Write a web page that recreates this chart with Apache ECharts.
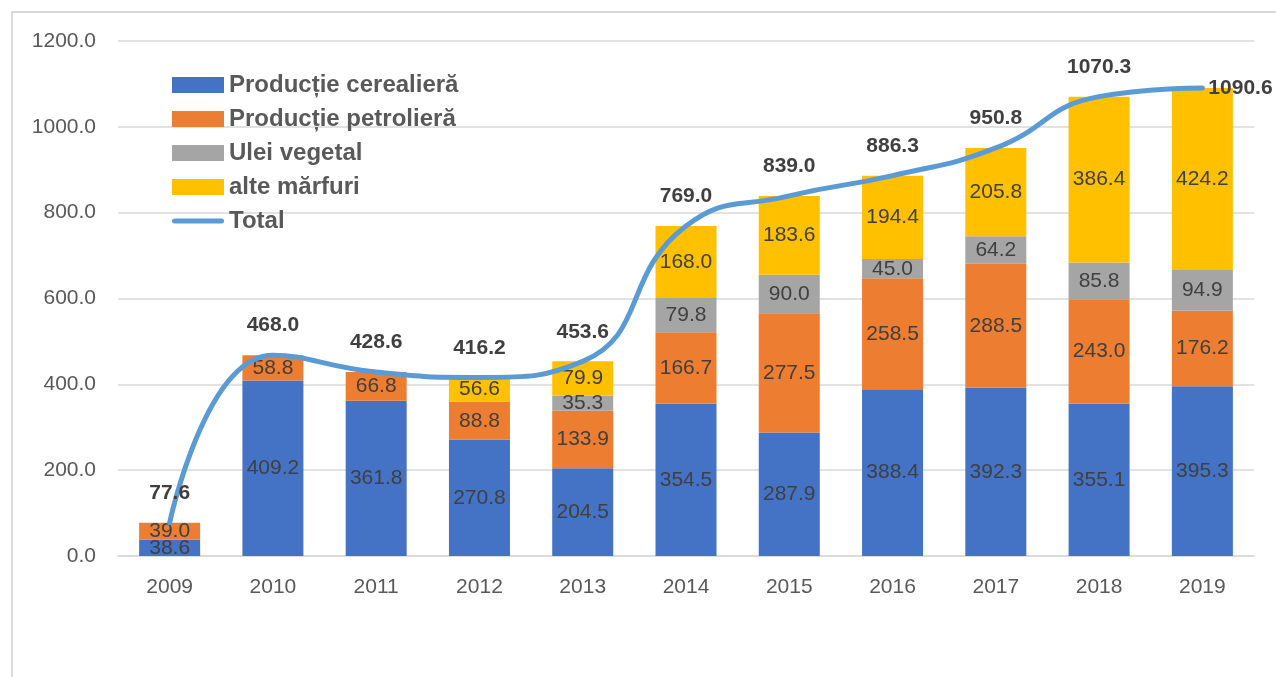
<!DOCTYPE html>
<html>
<head>
<meta charset="utf-8">
<script src="https://cdn.jsdelivr.net/npm/echarts@6/dist/echarts.min.js"></script>
<style>html,body{margin:0;padding:0;background:#fff}#c{width:1276px;height:677px}</style>
</head>
<body>
<div id="c"></div>
<script>
const categories = ['2009','2010','2011','2012','2013','2014','2015','2016','2017','2018','2019'];
const cereale = [38.6, 409.2, 361.8, 270.8, 204.5, 354.5, 287.9, 388.4, 392.3, 355.1, 395.3];
const petrol = [39.0, 58.8, 66.8, 88.8, 133.9, 166.7, 277.5, 258.5, 288.5, 243.0, 176.2];
const ulei = [null, null, null, null, 35.3, 79.8, 90.0, 45.0, 64.2, 85.8, 94.9];
const alte = [null, null, null, 56.6, 79.9, 168.0, 183.6, 194.4, 205.8, 386.4, 424.2];
const total = [77.6, 468.0, 428.6, 416.2, 453.6, 769.0, 839.0, 886.3, 950.8, 1070.3, 1090.6];
const yTicks = [0, 200, 400, 600, 800, 1000, 1200];

const FONT = '"Liberation Sans", Arial, sans-serif';
const chart = echarts.init(document.getElementById('c'), null, {renderer: 'canvas'});

function barSeries(name, data, color) {
  return {
    name: name, type: 'bar', stack: 'a', data: data, barWidth: 61,
    itemStyle: {color: color},
    label: {
      show: true, position: 'inside', color: '#404040', fontSize: 21, fontFamily: FONT,
      formatter: p => (p.value == null ? '' : Number(p.value).toFixed(1))
    },
    z: 2
  };
}

const lineData = total.map((v, i) => i === total.length - 1
  ? {value: v, label: {position: 'right', distance: 6}}
  : v);

const lineIcon = 'path://M0,0 L0.05,0 L0,0.05 Z M52,16 L51.95,16 L52,15.95 Z ' +
  'M2.5,5.5 L49.5,5.5 A2.5,2.5 0 0 1 49.5,10.5 L2.5,10.5 A2.5,2.5 0 0 1 2.5,5.5 Z';

chart.setOption({
  animation: false,
  backgroundColor: '#fff',
  textStyle: {fontFamily: FONT},
  graphic: [{
    type: 'rect', silent: true, z: -10,
    shape: {x: 12, y: 12, width: 1300, height: 720},
    style: {fill: 'none', stroke: '#d9d9d9', lineWidth: 2}
  }],
  grid: {left: 118, right: 22, top: 41, bottom: 121, containLabel: false},
  legend: {
    orient: 'vertical', left: 172, top: 73, padding: 0,
    itemWidth: 52, itemHeight: 16, itemGap: 10,
    textStyle: {color: '#595959', fontSize: 24, fontWeight: 'bold', fontFamily: FONT, lineHeight: 24},
    data: [
      {name: 'Producție cerealieră', icon: 'rect'},
      {name: 'Producție petrolieră', icon: 'rect'},
      {name: 'Ulei vegetal', icon: 'rect'},
      {name: 'alte mărfuri', icon: 'rect'},
      {name: 'Total', icon: lineIcon}
    ]
  },
  xAxis: {
    type: 'category', data: categories,
    axisLine: {show: true, lineStyle: {color: '#d9d9d9', width: 1.5}},
    axisTick: {show: false},
    axisLabel: {color: '#595959', fontSize: 21, fontFamily: FONT, margin: 21}
  },
  yAxis: {
    type: 'value', min: yTicks[0], max: yTicks[yTicks.length - 1], interval: 200,
    axisLine: {show: false}, axisTick: {show: false},
    splitLine: {lineStyle: {color: '#d9d9d9', width: 1.5}},
    axisLabel: {color: '#595959', fontSize: 21, fontFamily: FONT, margin: 22,
      formatter: v => Number(v).toFixed(1)}
  },
  series: [
    barSeries('Producție cerealieră', cereale, '#4472C4'),
    barSeries('Producție petrolieră', petrol, '#ED7D31'),
    barSeries('Ulei vegetal', ulei, '#A5A5A5'),
    barSeries('alte mărfuri', alte, '#FFC000'),
    {
      name: 'Total', type: 'line', data: lineData, smooth: 0.5,
      symbol: 'circle', symbolSize: 0, showSymbol: true, z: 5,
      itemStyle: {color: '#5B9BD5'},
      lineStyle: {color: '#5B9BD5', width: 5, cap: 'round'},
      label: {
        show: true, position: 'top', distance: 19, color: '#404040',
        fontSize: 21, fontWeight: 'bold', fontFamily: FONT,
        formatter: p => Number(p.value).toFixed(1)
      }
    }
  ]
});
</script>
</body>
</html>
